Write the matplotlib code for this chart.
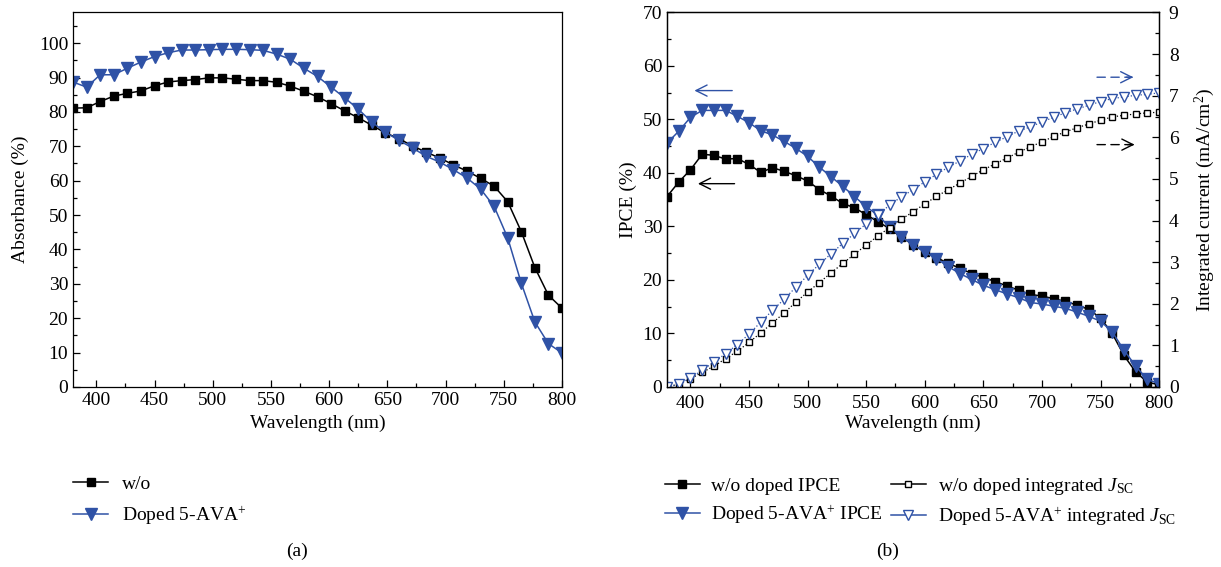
import matplotlib
matplotlib.use("Agg")
import matplotlib.pyplot as plt
from matplotlib.lines import Line2D
from matplotlib.ticker import MultipleLocator

plt.rcParams['font.family'] = ['Liberation Serif', 'DejaVu Serif']
plt.rcParams['mathtext.fontset'] = 'custom'
plt.rcParams['mathtext.rm'] = 'Liberation Serif'
plt.rcParams['mathtext.it'] = 'Liberation Serif:italic'
plt.rcParams['font.size'] = 14

BLUE = '#2f52a6'

# (a) absorbance, 37 points between 380 and 800 nm
wl_a = [380, 391.7, 403.3, 415, 426.7, 438.3, 450, 461.7, 473.3, 485, 496.7, 508.3,
        520, 531.7, 543.3, 555, 566.7, 578.3, 590, 601.7, 613.3, 625, 636.7, 648.3,
        660, 671.7, 683.3, 695, 706.7, 718.3, 730, 741.7, 753.3, 765, 776.7, 788.3, 800]
abs_wo = [81.1, 81.2, 83.0, 84.6, 85.4, 86.1, 87.6, 88.7, 89.1, 89.4, 89.9, 89.9,
          89.5, 89.1, 89.1, 88.6, 87.5, 86.0, 84.4, 82.4, 80.3, 78.3, 76.1, 73.9,
          72.2, 70.1, 68.3, 66.6, 64.6, 62.8, 60.7, 58.4, 53.9, 45.2, 34.7, 26.7, 22.9]
abs_doped = [88.7, 87.2, 90.8, 90.8, 92.7, 94.5, 96.1, 97.2, 98.0, 98.0, 98.1, 98.2,
             98.2, 98.1, 97.9, 96.8, 95.3, 92.7, 90.3, 87.2, 84.1, 80.8, 77.0, 74.1,
             71.7, 69.5, 67.1, 65.4, 63.2, 60.8, 57.6, 52.5, 43.4, 30.2, 18.9, 12.6, 9.9]

# (b) IPCE and integrated Jsc, 10 nm steps
wl_b = [380, 390, 400, 410, 420, 430, 440, 450, 460, 470, 480, 490, 500, 510, 520,
        530, 540, 550, 560, 570, 580, 590, 600, 610, 620, 630, 640, 650, 660, 670,
        680, 690, 700, 710, 720, 730, 740, 750, 760, 770, 780, 790, 800]
ipce_wo = [35.6, 38.3, 40.6, 43.5, 43.3, 42.6, 42.7, 41.6, 40.1, 41.0, 40.3, 39.5,
           38.5, 36.9, 35.7, 34.3, 33.5, 32.2, 30.9, 29.6, 28.0, 26.6, 25.3, 24.2,
           23.1, 22.2, 21.2, 20.5, 19.7, 18.9, 18.1, 17.3, 17.0, 16.5, 16.0, 15.3,
           14.5, 12.9, 10.0, 5.9, 2.8, 0.9, 0.4]
ipce_doped = [45.6, 47.8, 50.4, 51.7, 51.7, 51.7, 50.6, 49.4, 47.9, 47.1, 45.9, 44.6,
              43.1, 41.1, 39.3, 37.5, 35.6, 33.7, 32.1, 29.9, 28.1, 26.6, 25.2, 24.0,
              22.5, 21.2, 20.1, 19.0, 18.2, 17.4, 16.7, 15.8, 15.5, 15.1, 14.7, 14.0,
              13.2, 12.3, 10.3, 6.9, 3.9, 1.4, 0.6]
jsc_wo = [0.0, 0.07, 0.2, 0.35, 0.5, 0.68, 0.86, 1.07, 1.30, 1.54, 1.78, 2.04, 2.28,
          2.51, 2.74, 2.97, 3.19, 3.41, 3.63, 3.83, 4.03, 4.21, 4.40, 4.58, 4.74, 4.90,
          5.06, 5.22, 5.36, 5.50, 5.64, 5.77, 5.89, 6.02, 6.13, 6.23, 6.32, 6.41, 6.49,
          6.53, 6.56, 6.59, 6.60]
jsc_doped = [0.0, 0.06, 0.22, 0.40, 0.60, 0.80, 1.02, 1.27, 1.56, 1.84, 2.11, 2.40,
             2.68, 2.95, 3.20, 3.45, 3.69, 3.92, 4.14, 4.37, 4.57, 4.74, 4.93, 5.11,
             5.28, 5.43, 5.59, 5.73, 5.88, 6.01, 6.15, 6.25, 6.37, 6.48, 6.59, 6.68,
             6.77, 6.86, 6.93, 6.97, 7.01, 7.03, 7.07]

fig = plt.figure(figsize=(12.21, 5.67), dpi=100)


def style_ticks(ax, **kw):
    ax.tick_params(which='both', direction='in', labelsize=14, **kw)
    ax.tick_params(which='major', length=5, width=0.9)
    ax.tick_params(which='minor', length=3, width=0.9)
    for s in ax.spines.values():
        s.set_linewidth(0.9)


# ---- (a) ----
ax1 = fig.add_axes([0.0598, 0.3175, 0.4005, 0.661])
ax1.plot(wl_a, abs_wo, '-', color='black', lw=1.1, marker='s', ms=6)
ax1.plot(wl_a, abs_doped, '-', color=BLUE, lw=1.1, marker='v', ms=8)
ax1.set_xlim(380, 800)
ax1.set_ylim(0, 109)
ax1.set_yticks(range(0, 101, 10))
ax1.xaxis.set_major_locator(MultipleLocator(50))
ax1.xaxis.set_minor_locator(MultipleLocator(25))
ax1.yaxis.set_minor_locator(MultipleLocator(5))
style_ticks(ax1, top=False, right=False)
ax1.set_xlabel('Wavelength (nm)', fontsize=14)
ax1.set_ylabel('Absorbance (%)', fontsize=14, labelpad=7)

h1 = [Line2D([], [], color='black', lw=1.1, marker='s', ms=6),
      Line2D([], [], color=BLUE, lw=1.1, marker='v', ms=8)]
fig.legend(h1, ['w/o', 'Doped 5-AVA$^{+}$'], loc='upper left',
           bbox_to_anchor=(0.0535, 0.175), borderaxespad=0, frameon=False,
           fontsize=14, handlelength=1.8, handletextpad=0.7, labelspacing=0.55)
fig.text(0.243, 0.02, '(a)', ha='center', fontsize=14)

# ---- (b) ----
ax2 = fig.add_axes([0.5463, 0.3175, 0.403, 0.6605])
ax3 = ax2.twinx()
ax2.plot(wl_b, ipce_wo, '-', color='black', lw=1.1, marker='s', ms=6, zorder=3)
ax2.plot(wl_b, ipce_doped, '-', color=BLUE, lw=1.1, marker='v', ms=8, zorder=3)
ax3.plot(wl_b, jsc_wo, ':', color='black', lw=0.9, marker='s', ms=5,
         mfc='white', mec='black', mew=1.0)
ax3.plot(wl_b, jsc_doped, ':', color=BLUE, lw=0.9, marker='v', ms=7,
         mfc='white', mec=BLUE, mew=1.0)
ax2.set_xlim(380, 800)
ax2.set_ylim(0, 70)
ax3.set_ylim(0, 9)
ax2.xaxis.set_major_locator(MultipleLocator(50))
ax2.xaxis.set_minor_locator(MultipleLocator(25))
ax2.yaxis.set_major_locator(MultipleLocator(10))
ax2.yaxis.set_minor_locator(MultipleLocator(5))
ax3.yaxis.set_major_locator(MultipleLocator(1))
ax3.yaxis.set_minor_locator(MultipleLocator(0.5))
style_ticks(ax2, top=False, right=False)
ax2.tick_params(axis='x', pad=6)
style_ticks(ax3, left=False, top=False, pad=7)
ax2.set_xlabel('Wavelength (nm)', fontsize=14, labelpad=2)
ax2.set_ylabel('IPCE (%)', fontsize=14)
ax3.set_ylabel('Integrated current (mA/cm$^{2}$)', fontsize=14, labelpad=10)

# direction arrows (solid = IPCE axis, dashed = integrated current axis)
ax2.annotate('', xy=(401, 55.4), xytext=(438, 55.4),
             arrowprops=dict(arrowstyle='->', color=BLUE, lw=1.0, mutation_scale=20))
ax2.annotate('', xy=(404, 38.0), xytext=(440, 38.0),
             arrowprops=dict(arrowstyle='->', color='black', lw=1.0, mutation_scale=20))
for col, yv, x0, x1 in [(BLUE, 57.9, 747, 778), ('black', 45.3, 747, 779)]:
    ax2.annotate('', xy=(x1 - 1, yv), xytext=(x0, yv),
                 arrowprops=dict(arrowstyle='-', color=col, lw=1.0, ls=(0, (6, 4)),
                                 shrinkA=0, shrinkB=0))
    ax2.annotate('', xy=(x1, yv), xytext=(x1 - 6, yv),
                 arrowprops=dict(arrowstyle='->', color=col, lw=1.0, mutation_scale=20,
                                 shrinkA=0, shrinkB=0))

h2 = [Line2D([], [], color='black', lw=1.1, marker='s', ms=6),
      Line2D([], [], color=BLUE, lw=1.1, marker='v', ms=8),
      Line2D([], [], color='black', lw=1.1, marker='s', ms=5, mfc='white'),
      Line2D([], [], color=BLUE, lw=1.1, marker='v', ms=7, mfc='white')]
labels2 = ['w/o doped IPCE', 'Doped 5-AVA$^{+}$ IPCE',
           'w/o doped integrated $J_{\\mathrm{SC}}$',
           'Doped 5-AVA$^{+}$ integrated $J_{\\mathrm{SC}}$']
fig.legend(h2, labels2, loc='upper left', ncol=2, bbox_to_anchor=(0.538, 0.174),
           borderaxespad=0, frameon=False, fontsize=14, handlelength=1.8,
           handletextpad=0.6, labelspacing=0.4, columnspacing=0.4)
fig.text(0.727, 0.02, '(b)', ha='center', fontsize=14)

fig.savefig('out.png', dpi=100)
